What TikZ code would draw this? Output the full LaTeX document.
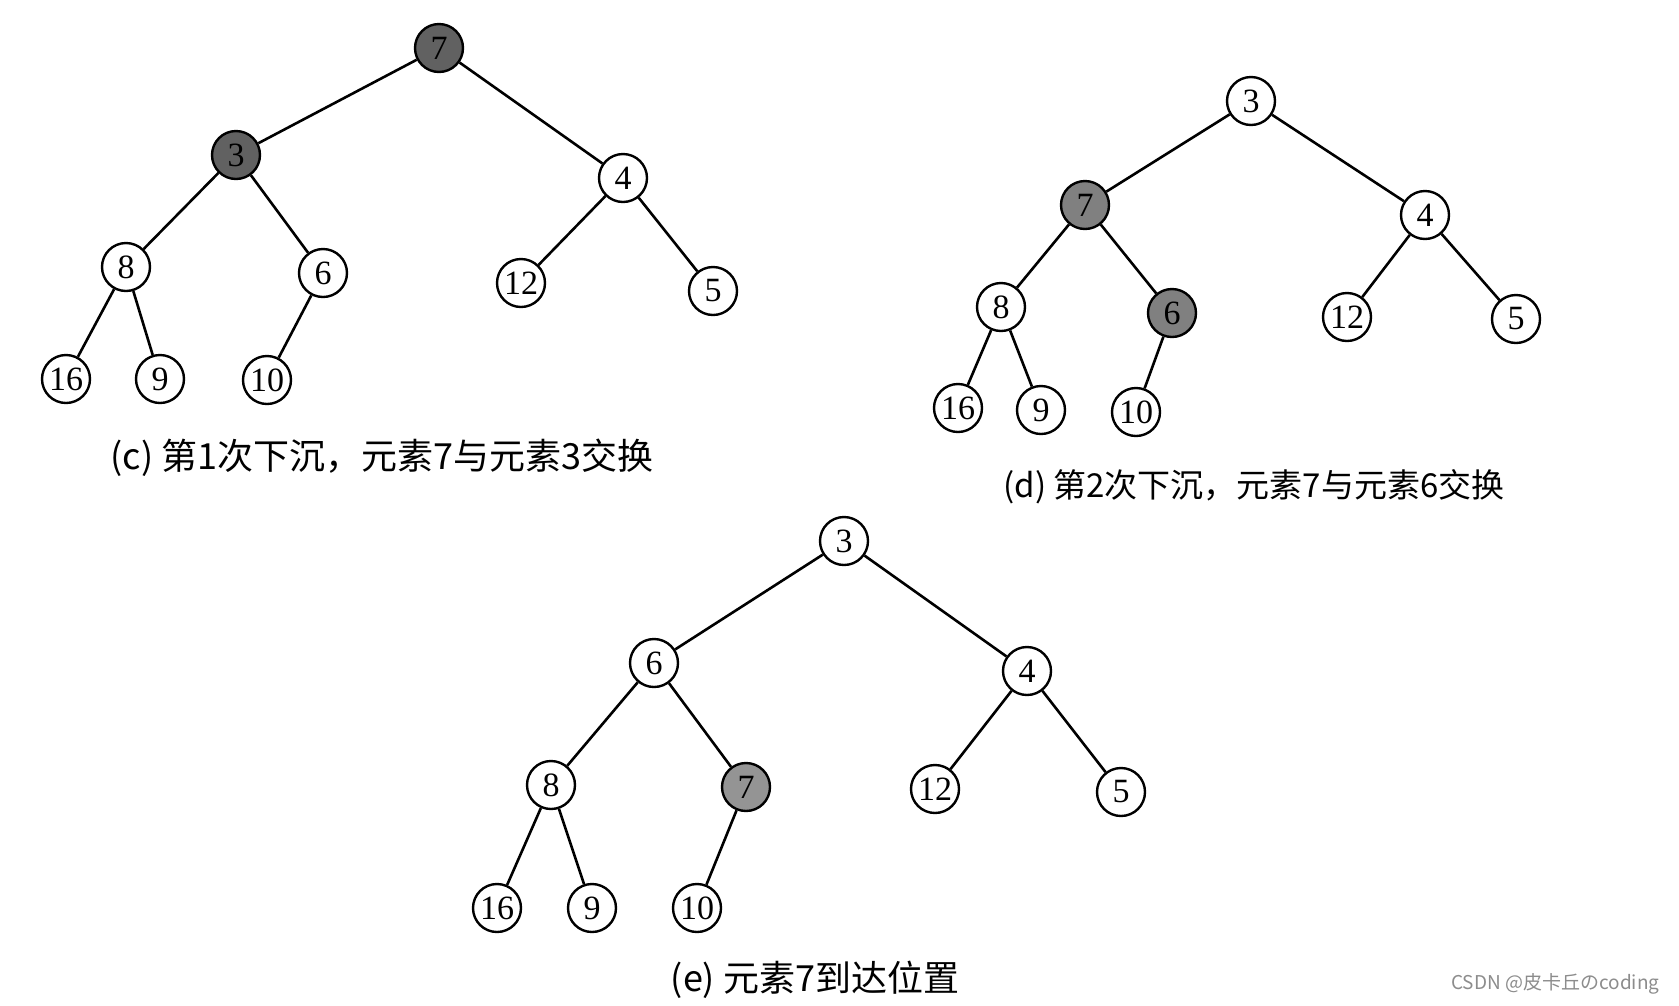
\documentclass[tikz,border=0pt]{standalone}
\usepackage{fontspec}
\setmainfont{Liberation Serif}
\newfontfamily\cjk{Noto Sans CJK SC}

\begin{document}
\begin{tikzpicture}[x=1pt, y=-1pt, line width=2.6pt]
        \tikzstyle{key}=[circle, draw, line width=2.4pt, inner sep=0pt, minimum size=48pt, font=\fontsize{34}{34}\selectfont]
        \tikzstyle{sunk}=[key, fill=black!62]
        \tikzstyle{caption}=[font=\cjk\fontsize{36}{38}\selectfont]
        \useasboundingbox[fill=white] (0,0) rectangle (1679,1005);

        % (c) first sift-down
        \node[sunk] (c7) at (439,48) {7};
        \node[sunk] (c3) at (236,155) {3};
        \node[key] (c4) at (623,178) {4};
        \node[key] (c8) at (126,267) {8};
        \node[key] (c6) at (323,273) {6};
        \node[key] (c12) at (521,283) {12};
        \node[key] (c5) at (713,291) {5};
        \node[key] (c16) at (66,379) {16};
        \node[key] (c9) at (160,379) {9};
        \node[key] (c10) at (267,380) {10};
        \draw (c7) -- (c3);
        \draw (c7) -- (c4);
        \draw (c3) -- (c8);
        \draw (c3) -- (c6);
        \draw (c4) -- (c12);
        \draw (c4) -- (c5);
        \draw (c8) -- (c16);
        \draw (c8) -- (c9);
        \draw (c6) -- (c10);
        \node[caption] (capc) at (382,458) {(c) 第1次下沉，元素7与元素3交换};

        % (d) second sift-down
        \node[key] (d3) at (1251,101) {3};
        \node[sunk, fill=black!50] (d7) at (1085,205) {7};
        \node[key] (d4) at (1425,215) {4};
        \node[key] (d8) at (1001,307) {8};
        \node[sunk, fill=black!50] (d6) at (1172,313) {6};
        \node[key] (d12) at (1347,317) {12};
        \node[key] (d5) at (1516,319) {5};
        \node[key] (d16) at (958,408) {16};
        \node[key] (d9) at (1041,410) {9};
        \node[key] (d10) at (1136,412) {10};
        \draw (d3) -- (d7);
        \draw (d3) -- (d4);
        \draw (d7) -- (d8);
        \draw (d7) -- (d6);
        \draw (d4) -- (d12);
        \draw (d4) -- (d5);
        \draw (d8) -- (d16);
        \draw (d8) -- (d9);
        \draw (d6) -- (d10);
        \node[caption, font=\cjk\fontsize{33}{35}\selectfont] (capd) at (1254,487) {(d) 第2次下沉，元素7与元素6交换};

        % (e) final position
        \node[key] (e3) at (844,541) {3};
        \node[key] (e6) at (654,663) {6};
        \node[key] (e4) at (1027,671) {4};
        \node[key] (e8) at (551,785) {8};
        \node[sunk, fill=black!42] (e7) at (746,787) {7};
        \node[key] (e12) at (935,789) {12};
        \node[key] (e5) at (1121,792) {5};
        \node[key] (e16) at (497,908) {16};
        \node[key] (e9) at (592,908) {9};
        \node[key] (e10) at (697,908) {10};
        \draw (e3) -- (e6);
        \draw (e3) -- (e4);
        \draw (e6) -- (e8);
        \draw (e6) -- (e7);
        \draw (e4) -- (e12);
        \draw (e4) -- (e5);
        \draw (e8) -- (e16);
        \draw (e8) -- (e9);
        \draw (e7) -- (e10);
        \node[caption] (cape) at (815,980) {(e) 元素7到达位置};

        \node[anchor=east, text=black!45, font=\cjk\fontsize{19}{21}\selectfont] (mark) at (1664,984) {CSDN @皮卡丘のcoding};
    \end{tikzpicture}
\end{document}
